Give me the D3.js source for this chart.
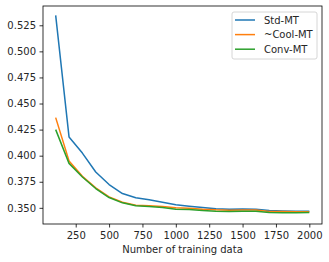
<!DOCTYPE html>
<html>
<head>
<meta charset="utf-8">
<script src="https://cdn.jsdelivr.net/npm/d3@7"></script>
<style>
  body { margin: 0; background: #fff; }
  text { font-family: "DejaVu Sans", sans-serif; fill: #262626; }
</style>
</head>
<body>
<div class="chart"></div>
<script>
// Data

const trainSizes = [100, 200, 300, 400, 500, 600, 700, 800, 900, 1000,
  1100, 1200, 1300, 1400, 1500, 1600, 1700, 1800, 1900, 2000];
const stdMT = [0.5345, 0.418, 0.4025, 0.3844, 0.3723, 0.3637, 0.3596, 0.3577, 0.3554, 0.3529,
  0.3516, 0.3503, 0.3491, 0.3487, 0.349, 0.3487, 0.3474, 0.347, 0.3467, 0.3467];
const coolMT = [0.4365, 0.395, 0.3802, 0.3691, 0.3605, 0.3554, 0.3525, 0.352, 0.3513, 0.35,
  0.3497, 0.3487, 0.3481, 0.3478, 0.348, 0.348, 0.3465, 0.3465, 0.3462, 0.3462];
const convMT = [0.425, 0.3926, 0.3796, 0.3685, 0.3599, 0.3548, 0.352, 0.3513, 0.3503, 0.3487,
  0.3484, 0.3474, 0.3468, 0.3465, 0.3468, 0.3468, 0.3455, 0.3452, 0.3452, 0.3455];
const seriesNames = ["Std-MT", "~Cool-MT", "Conv-MT"];
const xTicks = [250, 500, 750, 1000, 1250, 1500, 1750, 2000];
const yTicks = [0.35, 0.375, 0.4, 0.425, 0.45, 0.475, 0.5, 0.525];

// Measurements

const width = 329, height = 262;
const margin = { top: 6, right: 7, bottom: 38, left: 43 };
const w = width - margin.left - margin.right;
const h = height - margin.top - margin.bottom;
const colors = ["#1f77b4", "#ff7f0e", "#2ca02c"];

const svg = d3.select(".chart")
  .append("svg")
  .attr("width", width)
  .attr("height", height)
  .append("g")
  .attr("transform", `translate(${margin.left}, ${margin.top})`);

// Scales

const xScale = d3.scaleLinear().domain([5, 2095]).range([0, w]);
const yScale = d3.scaleLinear().domain([0.3345, 0.5435]).range([h, 0]);

// Axes

const xAxis = svg.append("g")
  .attr("transform", `translate(0, ${h})`)
  .call(d3.axisBottom(xScale).tickValues(xTicks).tickSize(3.5).tickPadding(4.5).tickFormat(d3.format("d")));

const yAxis = svg.append("g")
  .call(d3.axisLeft(yScale).tickValues(yTicks).tickSize(3.5).tickPadding(3.5).tickFormat(d3.format(".3f")));

[xAxis, yAxis].forEach((ax) => {
  ax.select(".domain").remove();
  ax.selectAll(".tick line").attr("stroke", "#000").attr("stroke-width", 0.8);
  ax.selectAll(".tick text").attr("font-size", 10).attr("fill", "#262626");
});

// Frame

svg.append("rect")
  .attr("width", w)
  .attr("height", h)
  .attr("fill", "none")
  .attr("stroke", "#000")
  .attr("stroke-width", 0.8);

// Lines

const line = d3.line()
  .x((d, i) => xScale(trainSizes[i]))
  .y((d) => yScale(d));

[stdMT, coolMT, convMT].forEach((values, i) => {
  svg.append("path")
    .datum(values)
    .attr("fill", "none")
    .attr("stroke", colors[i])
    .attr("stroke-width", 1.5)
    .attr("stroke-linejoin", "round")
    .attr("d", line);
});

// X label

svg.append("text")
  .attr("x", w / 2)
  .attr("y", h + 29)
  .attr("text-anchor", "middle")
  .attr("font-size", 10)
  .text("Number of training data");

// Legend

const legend = svg.append("g").attr("transform", `translate(${w - 90}, 6)`);

legend.append("rect")
  .attr("width", 85)
  .attr("height", 47)
  .attr("rx", 2)
  .attr("fill", "#fff")
  .attr("fill-opacity", 0.8)
  .attr("stroke", "#ccc")
  .attr("stroke-width", 0.8);

seriesNames.forEach((name, i) => {
  const y = 8 + i * 14.6;
  legend.append("line")
    .attr("x1", 3).attr("x2", 23)
    .attr("y1", y).attr("y2", y)
    .attr("stroke", colors[i])
    .attr("stroke-width", 1.5);
  legend.append("text")
    .attr("x", 32)
    .attr("y", y)
    .attr("dy", "0.35em")
    .attr("font-size", 10)
    .text(name);
});
</script>
</body>
</html>
